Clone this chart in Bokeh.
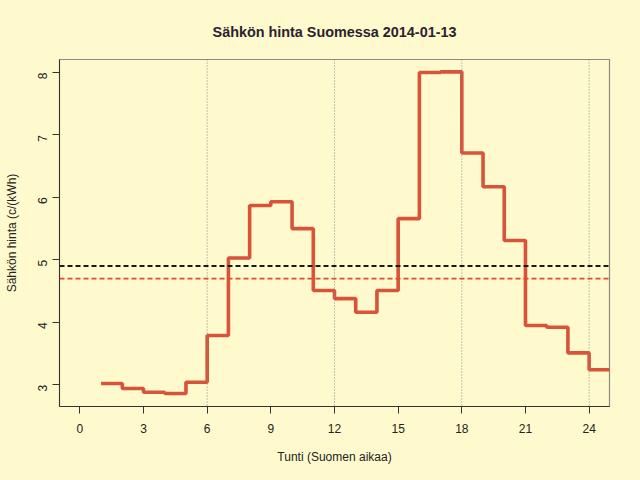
import math

from bokeh.embed import file_html
from bokeh.models import FixedTicker, Span
from bokeh.plotting import figure
from bokeh.resources import INLINE

# Data
hours = list(range(1, 26))
prices = [3.02, 2.94, 2.88, 2.86, 3.04, 3.79, 5.03, 5.87, 5.93, 5.50,
          4.51, 4.38, 4.16, 4.51, 5.66, 8.00, 8.01, 6.71, 6.17, 5.31,
          3.95, 3.92, 3.51, 3.24, 3.24]
ref_price = 4.90      # musta katkoviiva
mean_price = 4.70     # punainen katkoviiva (päivän keskiarvo)
guide_hours = [6, 12, 18, 24]
x_ticks = [0, 3, 6, 9, 12, 15, 18, 21, 24]
y_ticks = [3, 4, 5, 6, 7, 8]

BG = "#fffacd"
FONT = "Liberation Sans"

p = figure(width=640, height=480, output_backend="svg", toolbar_location=None,
           x_range=(-0.96, 24.96), y_range=(2.652, 8.208),
           min_border_left=59, min_border_right=31,
           min_border_top=59, min_border_bottom=74)

p.background_fill_color = BG
p.border_fill_color = BG
p.outline_line_color = "#8c8a80"
p.outline_line_width = 1.2
p.xgrid.visible = False
p.ygrid.visible = False

p.title.text = "Sähkön hinta Suomessa 2014-01-13"
p.title.align = "center"
p.title.text_font = FONT
p.title.text_font_size = "14.4px"
p.title.text_font_style = "bold"
p.title.text_color = "#2a2230"
p.title.standoff = 40

for h in guide_hours:
    p.add_layout(Span(location=h, dimension="height", line_color="#8a8a8a",
                      line_width=1, line_dash="1 2"))

p.add_layout(Span(location=ref_price, dimension="width", line_color="#1a1a1a",
                  line_width=2, line_dash="5 3"))
p.add_layout(Span(location=mean_price, dimension="width", line_color="#dd4b33",
                  line_width=1.6, line_dash="5 3"))

p.step(hours, prices, mode="after", line_color="#d9533a", line_width=3.6)

for ax in (p.xaxis[0], p.yaxis[0]):
    ax.axis_line_color = "#333333"
    ax.major_tick_line_color = "#333333"
    ax.major_tick_in = 0
    ax.major_tick_out = 7
    ax.minor_tick_line_color = None
    ax.major_label_text_font = FONT
    ax.major_label_text_font_size = "12px"
    ax.major_label_text_color = "#222222"
    ax.axis_label_text_font = FONT
    ax.axis_label_text_font_size = "12px"
    ax.axis_label_text_font_style = "normal"
    ax.axis_label_text_color = "#222222"

p.xaxis.ticker = FixedTicker(ticks=x_ticks)
p.yaxis.ticker = FixedTicker(ticks=y_ticks)
p.xaxis.axis_label = "Tunti (Suomen aikaa)"
p.yaxis.axis_label = "Sähkön hinta (c/(kWh)"
p.yaxis.major_label_orientation = math.pi / 2
p.xaxis.major_label_standoff = 10
p.yaxis.major_label_standoff = 10
p.xaxis.axis_label_standoff = 14
p.yaxis.axis_label_standoff = 12

html = file_html(p, INLINE)
html = html.replace("<body>", '<body style="background-color:%s;">' % BG)
open("out.html", "w").write(html)
